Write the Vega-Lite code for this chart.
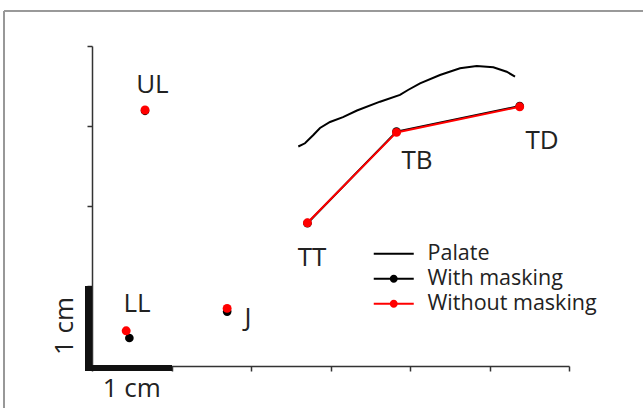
{
  "$schema": "https://vega.github.io/schema/vega-lite/v6.json",
  "width": 477,
  "height": 320,
  "autosize": {"type": "none"},
  "padding": {"left": 92, "top": 46, "right": 74, "bottom": 42},
  "background": "white",
  "config": {"view": {"stroke": null}, "font": "Open Sans"},
  "datasets": {
    "pts": [
      {"series": "Palate", "point": "", "x": 2.595, "y": 2.744},
      {"series": "Palate", "point": "", "x": 2.679, "y": 2.784},
      {"series": "Palate", "point": "", "x": 2.784, "y": 2.888},
      {"series": "Palate", "point": "", "x": 2.868, "y": 2.975},
      {"series": "Palate", "point": "", "x": 2.994, "y": 3.05},
      {"series": "Palate", "point": "", "x": 3.157, "y": 3.11},
      {"series": "Palate", "point": "", "x": 3.333, "y": 3.194},
      {"series": "Palate", "point": "", "x": 3.623, "y": 3.304},
      {"series": "Palate", "point": "", "x": 3.874, "y": 3.388},
      {"series": "Palate", "point": "", "x": 3.975, "y": 3.45},
      {"series": "Palate", "point": "", "x": 4.126, "y": 3.534},
      {"series": "Palate", "point": "", "x": 4.377, "y": 3.638},
      {"series": "Palate", "point": "", "x": 4.629, "y": 3.721},
      {"series": "Palate", "point": "", "x": 4.839, "y": 3.75},
      {"series": "Palate", "point": "", "x": 5.048, "y": 3.734},
      {"series": "Palate", "point": "", "x": 5.216, "y": 3.679},
      {"series": "Palate", "point": "", "x": 5.321, "y": 3.616},
      {"series": "With masking", "point": "UL", "x": 0.667, "y": 3.19},
      {"series": "With masking", "point": "LL", "x": 0.47, "y": 0.35},
      {"series": "With masking", "point": "J", "x": 1.7, "y": 0.68},
      {"series": "With masking", "point": "TT", "x": 2.71, "y": 1.785},
      {"series": "With masking", "point": "TB", "x": 3.83, "y": 2.93},
      {"series": "With masking", "point": "TD", "x": 5.38, "y": 3.25},
      {"series": "Without masking", "point": "UL", "x": 0.667, "y": 3.2},
      {"series": "Without masking", "point": "LL", "x": 0.43, "y": 0.44},
      {"series": "Without masking", "point": "J", "x": 1.7, "y": 0.72},
      {"series": "Without masking", "point": "TT", "x": 2.71, "y": 1.79},
      {"series": "Without masking", "point": "TB", "x": 3.83, "y": 2.92},
      {"series": "Without masking", "point": "TD", "x": 5.38, "y": 3.24}
    ],
    "labels": [
      {"label": "UL", "x": 0.76, "y": 3.51},
      {"label": "LL", "x": 0.566, "y": 0.775},
      {"label": "J", "x": 1.962, "y": 0.6},
      {"label": "TT", "x": 2.767, "y": 1.35},
      {"label": "TB", "x": 4.088, "y": 2.5625},
      {"label": "TD", "x": 5.66, "y": 2.8125}
    ],
    "scalebar": [
      {"label": "1 cm", "axis": "x", "x": 0.5, "y": -0.29},
      {"label": "1 cm", "axis": "y", "x": -0.34, "y": 0.5}
    ]
  },
  "layer": [
    {
      "data": {"name": "pts"},
      "mark": {"type": "rule", "color": "#999999", "strokeWidth": 1},
      "encoding": {
        "x": {"datum": -1.107, "type": "quantitative"},
        "x2": {"datum": 8},
        "y": {"datum": 4.4375, "type": "quantitative"}
      }
    },
    {
      "data": {"name": "pts"},
      "mark": {"type": "rule", "color": "#999999", "strokeWidth": 1},
      "encoding": {
        "x": {"datum": -1.107, "type": "quantitative"},
        "y": {"datum": 4.4375, "type": "quantitative"},
        "y2": {"datum": -1}
      }
    },
    {
      "data": {"name": "pts"},
      "transform": [{"filter": "datum.series == 'Palate' || (datum.series == 'With masking' && indexof(['TT','TB','TD'], datum.point) >= 0)"}],
      "mark": {"type": "line", "strokeWidth": 2},
      "encoding": {
        "x": {"field": "x", "type": "quantitative", "scale": {"domain": [0, 6], "nice": false, "zero": false},
          "axis": {"values": [0, 1, 2, 3, 4, 5, 6], "labels": false, "title": null, "grid": false, "tickSize": 5, "domainColor": "#333333", "tickColor": "#333333", "domainWidth": 1.5, "tickWidth": 1.5}},
        "y": {"field": "y", "type": "quantitative", "scale": {"domain": [0, 4], "nice": false, "zero": false},
          "axis": {"values": [0, 1, 2, 3, 4], "labels": false, "title": null, "grid": false, "tickSize": 5, "domainColor": "#333333", "tickColor": "#333333", "domainWidth": 1.5, "tickWidth": 1.5}},
        "color": {"field": "series", "type": "nominal",
          "scale": {"domain": ["Palate", "With masking", "Without masking"], "range": ["#000000", "#000000", "#ff0000"]},
          "legend": {
            "orient": "none", "legendX": 291, "legendY": 197, "title": null, "padding": 0,
            "symbolSize": 100, "symbolStrokeWidth": 0, "labelOffset": 23, "labelLimit": 0,
            "labelFont": "Open Sans", "labelFontSize": 21.5, "labelColor": "#222222", "rowPadding": 2,
            "encode": {"symbols": {"update": {
              "shape": {"signal": "datum.value === 'Palate' ? 'M-4,-0.2H4V0.2H-4Z' : 'M-4,-0.2H4V0.2H-4Z M-0.8,0A0.8,0.8 0 1,1 0.8,0A0.8,0.8 0 1,1 -0.8,0Z'"},
              "fill": {"signal": "datum.value === 'Without masking' ? '#ff0000' : '#000000'"},
              "stroke": {"value": "transparent"},
              "opacity": {"value": 1},
              "fillOpacity": {"value": 1}
            }}}
          }},
        "detail": {"field": "series"}
      }
    },
    {
      "data": {"name": "pts"},
      "transform": [{"filter": "datum.series == 'With masking'"}],
      "mark": {"type": "point", "filled": true, "size": 75, "opacity": 1},
      "encoding": {
        "x": {"field": "x", "type": "quantitative"},
        "y": {"field": "y", "type": "quantitative"},
        "color": {"field": "series", "type": "nominal"}
      }
    },
    {
      "data": {"name": "pts"},
      "transform": [{"filter": "datum.series == 'Without masking' && indexof(['TT','TB','TD'], datum.point) >= 0"}],
      "mark": {"type": "line", "strokeWidth": 2},
      "encoding": {
        "x": {"field": "x", "type": "quantitative"},
        "y": {"field": "y", "type": "quantitative"},
        "color": {"field": "series", "type": "nominal"}
      }
    },
    {
      "data": {"name": "pts"},
      "transform": [{"filter": "datum.series == 'Without masking'"}],
      "mark": {"type": "point", "filled": true, "size": 80, "opacity": 1},
      "encoding": {
        "x": {"field": "x", "type": "quantitative"},
        "y": {"field": "y", "type": "quantitative"},
        "color": {"field": "series", "type": "nominal"}
      }
    },
    {
      "data": {"name": "labels"},
      "mark": {"type": "text", "fontSize": 26, "font": "Open Sans", "color": "#222222", "baseline": "middle", "align": "center"},
      "encoding": {
        "x": {"field": "x", "type": "quantitative"},
        "y": {"field": "y", "type": "quantitative"},
        "text": {"field": "label"}
      }
    },
    {
      "data": {"name": "pts"},
      "mark": {"type": "rule", "color": "#111111", "strokeWidth": 6},
      "encoding": {
        "x": {"datum": 0, "type": "quantitative"},
        "x2": {"datum": 1},
        "y": {"datum": -0.025, "type": "quantitative"}
      }
    },
    {
      "data": {"name": "pts"},
      "mark": {"type": "rule", "color": "#111111", "strokeWidth": 6},
      "encoding": {
        "x": {"datum": -0.045, "type": "quantitative"},
        "y": {"datum": -0.0625, "type": "quantitative"},
        "y2": {"datum": 1}
      }
    },
    {
      "data": {"name": "scalebar"},
      "transform": [{"filter": "datum.axis == 'x'"}],
      "mark": {"type": "text", "fontSize": 26, "font": "Open Sans", "color": "#222222", "baseline": "middle", "align": "center"},
      "encoding": {
        "x": {"field": "x", "type": "quantitative"},
        "y": {"field": "y", "type": "quantitative"},
        "text": {"field": "label"}
      }
    },
    {
      "data": {"name": "scalebar"},
      "transform": [{"filter": "datum.axis == 'y'"}],
      "mark": {"type": "text", "fontSize": 26, "font": "Open Sans", "color": "#222222", "baseline": "middle", "align": "center", "angle": 270},
      "encoding": {
        "x": {"field": "x", "type": "quantitative"},
        "y": {"field": "y", "type": "quantitative"},
        "text": {"field": "label"}
      }
    }
  ]
}
